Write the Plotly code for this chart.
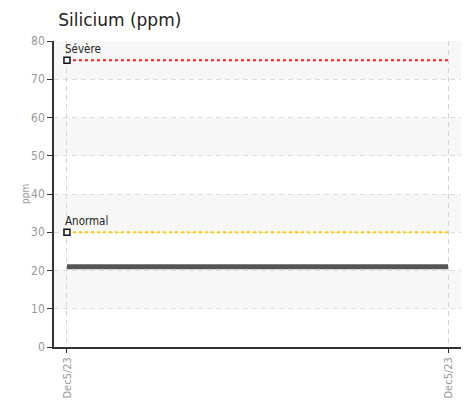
import plotly.graph_objects as go

x_pos = [0, 1]
x_labels = ["Dec5/23", "Dec5/23"]
silicium = [21, 21]
severe_level = [75, 75]
anormal_level = [30, 30]
threshold_names = ["Sévère", "Anormal"]
y_ticks = [0, 10, 20, 30, 40, 50, 60, 70, 80]
band_ranges = [(70, 80), (50, 60), (30, 40), (10, 20)]

TICK_FONT = "Liberation Sans Narrow, DejaVu Sans Condensed, Roboto, sans-serif"

fig = go.Figure()

for y0, y1 in band_ranges:
    fig.add_hrect(y0=y0, y1=y1, fillcolor="#f7f7f7", line_width=0, layer="below")

fig.add_trace(go.Scatter(x=x_pos, y=severe_level, mode="lines",
                         line=dict(color="#ff1a1a", width=2, dash="dot"),
                         hoverinfo="skip", showlegend=False))
fig.add_trace(go.Scatter(x=x_pos, y=anormal_level, mode="lines",
                         line=dict(color="#ffcc00", width=2, dash="dot"),
                         hoverinfo="skip", showlegend=False))
fig.add_trace(go.Scatter(x=x_pos, y=silicium, mode="lines",
                         line=dict(color="#555555", width=5),
                         showlegend=False))
fig.add_trace(go.Scatter(x=[x_pos[0], x_pos[0]], y=[severe_level[0], anormal_level[0]],
                         mode="markers",
                         marker=dict(symbol="square", size=6, color="white",
                                     line=dict(width=1.5, color="#111111")),
                         showlegend=False))

for name, level in zip(threshold_names, [severe_level[0], anormal_level[0]]):
    fig.add_annotation(x=x_pos[0], y=level, text=name, showarrow=False,
                       xanchor="left", yanchor="bottom", xshift=-4, yshift=2,
                       font=dict(family=TICK_FONT, size=11.5, color="#222222"))

fig.add_annotation(x=0, y=0.5, xref="paper", yref="paper", text="ppm", showarrow=False,
                   textangle=-90, xanchor="center", yanchor="middle", xshift=-29,
                   font=dict(family=TICK_FONT, size=10, color="#999999"))

fig.update_layout(
    width=469, height=402,
    margin=dict(l=46, r=16, t=33, b=63),
    paper_bgcolor="white", plot_bgcolor="white",
    title=dict(text="Silicium (ppm)", x=0.107, xref="container", xanchor="left",
               y=0.97, yref="container", yanchor="middle",
               font=dict(family="DejaVu Sans, Verdana, sans-serif", size=17, color="#222222")),
    xaxis=dict(range=[-0.034, 1.034], tickmode="array", tickvals=x_pos, ticktext=x_labels,
               tickangle=-90, showgrid=True, gridcolor="#d4d4d4", griddash="5px,4px", gridwidth=1,
               zeroline=False, showline=True, linecolor="#333333", linewidth=1.5,
               ticks="outside", ticklen=4, tickcolor="#333333", automargin=False,
               tickfont=dict(family=TICK_FONT, size=11, color="#999999")),
    yaxis=dict(range=[0, 80], tickmode="array", tickvals=y_ticks,
               showgrid=True, gridcolor="#dddddd", griddash="5px,4px", gridwidth=1,
               zeroline=False, showline=True, linecolor="#333333", linewidth=1.5,
               ticks="outside", ticklen=5, tickcolor="#333333", automargin=False,
               tickfont=dict(family=TICK_FONT, size=12, color="#999999")),
)

fig.write_html("out.html")
